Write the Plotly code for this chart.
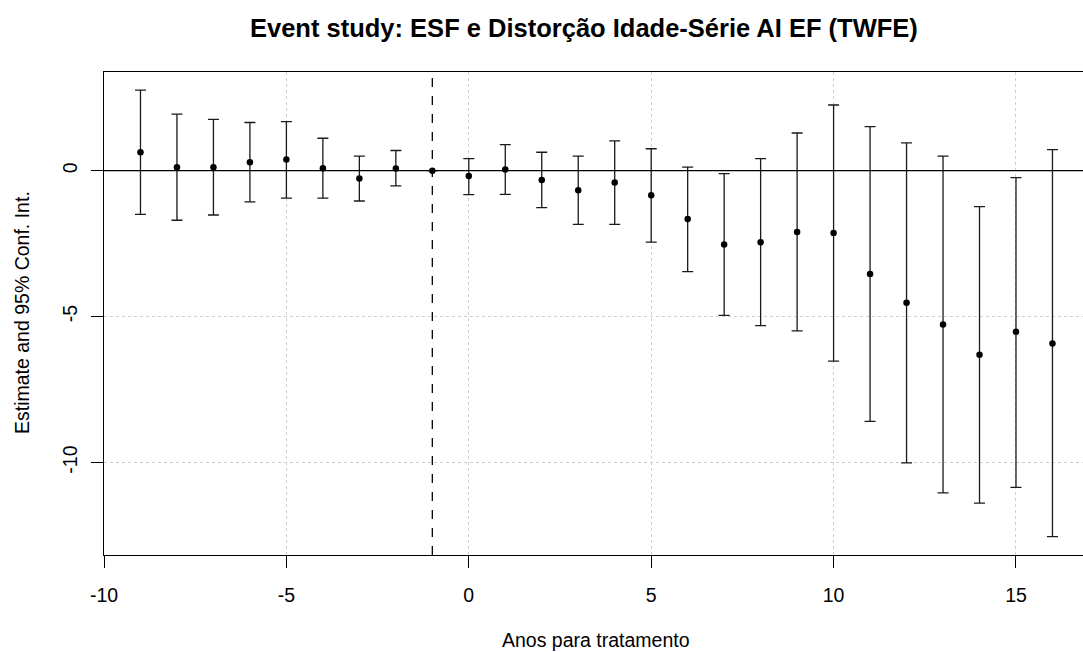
import plotly.graph_objects as go
import numpy as np

periods = list(range(-9, 17))
estimate = [0.63, 0.12, 0.12, 0.29, 0.38, 0.08, -0.27, 0.07, 0.0,
            -0.18, 0.04, -0.32, -0.67, -0.41, -0.84, -1.66, -2.53, -2.45,
            -2.10, -2.14, -3.54, -4.53, -5.27, -6.31, -5.52, -5.92]
ci_upper = [2.76, 1.94, 1.76, 1.65, 1.68, 1.11, 0.50, 0.69, 0.0,
            0.41, 0.89, 0.63, 0.50, 1.02, 0.75, 0.12, -0.10, 0.41,
            1.29, 2.25, 1.51, 0.95, 0.50, -1.23, -0.24, 0.72]
ci_lower = [-1.50, -1.70, -1.52, -1.07, -0.94, -0.94, -1.04, -0.52, 0.0,
            -0.82, -0.81, -1.27, -1.84, -1.84, -2.45, -3.46, -4.96, -5.31,
            -5.49, -6.53, -8.59, -10.01, -11.04, -11.39, -10.85, -12.54]
x_ticks = [-10, -5, 0, 5, 10, 15]
x_tick_labels = ["-10", "-5", "0", "5", "10", "15"]
y_ticks = [-10, -5, 0]
y_tick_labels = ["-10", "-5", "0"]

title = "Event study: ESF e Distorção Idade-Série AI EF (TWFE)"
x_title = "Anos para tratamento"
y_title = "Estimate and 95% Conf. Int."

est = np.array(estimate)
up = np.array(ci_upper) - est
lo = est - np.array(ci_lower)

FONT = "Liberation Sans, Arial, sans-serif"
FS = 19.5

fig = go.Figure()
fig.add_trace(go.Scatter(
    x=periods, y=estimate, mode="markers",
    marker=dict(color="black", size=6.5),
    error_y=dict(type="data", symmetric=False, array=up, arrayminus=lo,
                 color="#1a1a1a", thickness=1.3, width=5.5),
    showlegend=False, hoverinfo="skip"))

L, R, T, B = 104, 0, 72, 97
fig.update_layout(
    width=1083, height=652,
    margin=dict(l=L, r=R, t=T, b=B, pad=0),
    paper_bgcolor="white", plot_bgcolor="white",
    font=dict(family=FONT, size=FS, color="black"),
    xaxis=dict(range=[-10, 16.837], tickvals=x_ticks, ticktext=x_tick_labels,
               ticks="outside", ticklen=12, tickcolor="black", tickwidth=1.3,
               showline=True, linecolor="black", linewidth=1.3, mirror=True,
               showgrid=True, gridcolor="#cfcfcf", griddash="dot", gridwidth=1,
               zeroline=False, tickfont=dict(size=FS), ticklabelstandoff=10),
    yaxis=dict(range=[-13.17, 3.38], tickvals=y_ticks, ticktext=y_tick_labels,
               ticks="outside", ticklen=12, tickcolor="black", tickwidth=1.3,
               tickangle=-90,
               showline=True, linecolor="black", linewidth=1.3,
               showgrid=True, gridcolor="#cfcfcf", griddash="dot", gridwidth=1,
               zeroline=False, tickfont=dict(size=FS), ticklabelstandoff=6),
)

fig.add_hline(y=0, line=dict(color="black", width=1.3))
fig.add_vline(x=-1, line=dict(color="black", width=1.3, dash="dash"))

pw = 1083 - L - R
ph = 652 - T - B
def px2paper_x(p):
    return (p - L) / pw
def py2paper_y(p):
    return (652 - B - p) / ph

fig.add_annotation(text="<b>" + title + "</b>", xref="paper", yref="paper",
                   x=px2paper_x(584), y=py2paper_y(28), showarrow=False,
                   xanchor="center", yanchor="middle",
                   font=dict(size=25.5, family=FONT, color="black"))
fig.add_annotation(text=x_title, xref="paper", yref="paper",
                   x=px2paper_x(596), y=py2paper_y(640), showarrow=False,
                   xanchor="center", yanchor="middle",
                   font=dict(size=FS, family=FONT, color="black"))
fig.add_annotation(text=y_title, xref="paper", yref="paper",
                   x=px2paper_x(22), y=py2paper_y(313), showarrow=False,
                   xanchor="center", yanchor="middle", textangle=-90,
                   font=dict(size=FS, family=FONT, color="black"))

fig.write_html("out.html")
